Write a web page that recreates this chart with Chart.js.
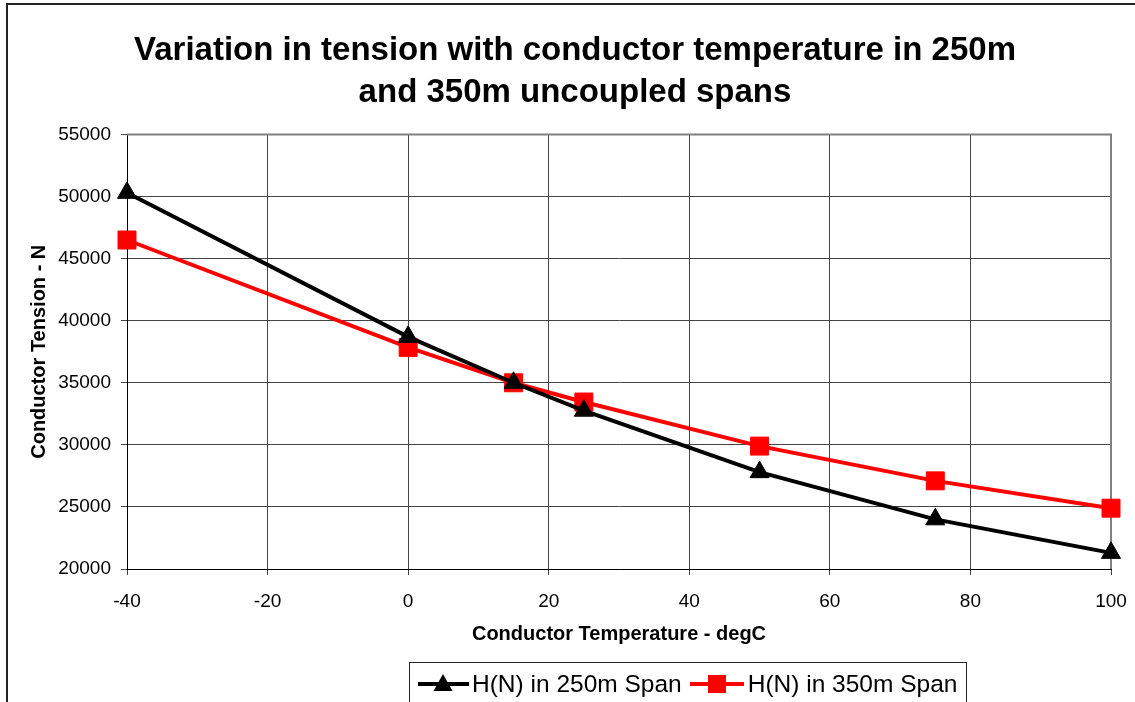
<!DOCTYPE html>
<html lang="en">

<head>
    <meta charset="UTF-8">
    <title>Conductor tension vs temperature</title>
    <script src="https://cdn.jsdelivr.net/npm/chart.js"></script>
    <style>
        body {
            margin: 0;
            background-color: #ffffff;
            overflow: hidden;
        }

        #wrap {
            position: relative;
            width: 1135px;
            height: 702px;
        }

        .legend {
            position: absolute;
            left: 409px;
            top: 662px;
            width: 558px;
            height: 60px;
            border: 1px solid #222;
            display: flex;
            align-items: flex-start;
            padding-left: 7px;
            box-sizing: border-box;
            font-family: 'Liberation Sans', Arial, sans-serif;
            font-size: 24.5px;
            color: #000;
        }

        .legend .item {
            display: flex;
            align-items: center;
            height: 42px;
        }

        .legend svg {
            display: block;
        }
    </style>
</head>

<body>
    <div id="wrap">
        <canvas id="tensionChart" width="1135" height="702"></canvas>
        <div class="legend">
            <div class="item">
                <svg width="52" height="24">
                    <line x1="1" y1="12" x2="52" y2="12" stroke="#000" stroke-width="4" />
                    <polygon points="26,2 35.5,19 16.5,19" fill="#000" />
                </svg>
                <span style="margin-left: 3px">H(N) in 250m Span</span>
            </div>
            <div class="item" style="margin-left: 8px">
                <svg width="54" height="24">
                    <line x1="0" y1="12" x2="54" y2="12" stroke="#ff0000" stroke-width="4" />
                    <rect x="18" y="3" width="18" height="18" fill="#ff0000" />
                </svg>
                <span style="margin-left: 4px">H(N) in 350m Span</span>
            </div>
        </div>
    </div>

    <script type="text/javascript">
        // conductor temperature (degC) and horizontal tension (N) per span
        const temps = [-40, 0, 15, 25, 50, 75, 100];
        const span250 = [50300, 38700, 35000, 32750, 27800, 24000, 21300];
        const span350 = [46500, 37850, 35000, 33450, 29900, 27100, 24900];
        const seriesNames = ['H(N) in 250m Span', 'H(N) in 350m Span'];

        const xTicks = { min: -40, max: 100, step: 20 };
        const yTicks = { min: 20000, max: 55000, step: 5000 };

        function toPoints(values) {
            return temps.map((t, i) => ({ x: t, y: values[i] }));
        }

        Chart.defaults.font.family = "'Liberation Sans', Arial, sans-serif";
        Chart.defaults.color = '#000';

        // outer frame plus the grey top/right edge of the plot area
        const frames = {
            id: 'frames',
            beforeDatasetsDraw(chart) {
                const { ctx, chartArea: a } = chart;
                ctx.save();
                ctx.strokeStyle = '#808080';
                ctx.lineWidth = 2;
                ctx.beginPath();
                ctx.moveTo(a.left, a.top);
                ctx.lineTo(a.right, a.top);
                ctx.lineTo(a.right, a.bottom);
                ctx.stroke();
                ctx.restore();
            },
            afterDraw(chart) {
                const ctx = chart.ctx;
                ctx.save();
                ctx.strokeStyle = '#222';
                ctx.lineWidth = 2;
                ctx.strokeRect(7, 4, 1300, 900);
                ctx.restore();
            }
        };

        var ctx = document.getElementById('tensionChart').getContext('2d');
        var tensionChart = new Chart(ctx, {
            type: 'line',
            data: {
                datasets: [{
                    label: seriesNames[0],
                    data: toPoints(span250),
                    borderColor: '#000',
                    backgroundColor: '#000',
                    borderWidth: 4,
                    pointStyle: 'triangle',
                    pointRadius: 11,
                    pointBorderWidth: 1,
                    clip: false
                }, {
                    label: seriesNames[1],
                    data: toPoints(span350),
                    borderColor: '#ff0000',
                    backgroundColor: '#ff0000',
                    borderWidth: 4,
                    pointStyle: 'rect',
                    pointRadius: 12.7,
                    pointBorderWidth: 1,
                    clip: false
                }]
            },
            options: {
                responsive: false,
                animation: false,
                layout: {
                    padding: { left: 15, right: 0, top: 0, bottom: 52 }
                },
                plugins: {
                    legend: { display: false },
                    tooltip: { enabled: false },
                    title: {
                        display: true,
                        text: ['Variation in tension with conductor temperature in 250m',
                            'and 350m uncoupled spans'],
                        font: { size: 33, weight: 'bold', lineHeight: 1.28 },
                        color: '#000',
                        padding: { top: 30, bottom: 20 }
                    }
                },
                scales: {
                    x: {
                        type: 'linear',
                        min: xTicks.min,
                        max: xTicks.max,
                        ticks: {
                            stepSize: xTicks.step,
                            font: { size: 19 },
                            padding: 15,
                            maxRotation: 0
                        },
                        grid: { color: '#444', tickLength: 6 },
                        border: { color: '#000', width: 1 },
                        title: {
                            display: true,
                            text: 'Conductor Temperature - degC',
                            font: { size: 20, weight: 'bold' },
                            padding: { bottom: 4 }
                        },
                        afterFit(scale) {
                            scale.height = 81;
                            scale.paddingRight = 24;
                        }
                    },
                    y: {
                        min: yTicks.min,
                        max: yTicks.max,
                        ticks: {
                            stepSize: yTicks.step,
                            font: { size: 19 },
                            padding: 10,
                            callback: (v) => String(v)
                        },
                        grid: { color: '#444', tickLength: 6 },
                        border: { color: '#000', width: 1 },
                        title: {
                            display: true,
                            text: 'Conductor Tension - N',
                            font: { size: 20, weight: 'bold' },
                            padding: { top: 12 }
                        },
                        afterFit(scale) { scale.width = 112; }
                    }
                }
            },
            plugins: [frames]
        });
    </script>
</body>

</html>
